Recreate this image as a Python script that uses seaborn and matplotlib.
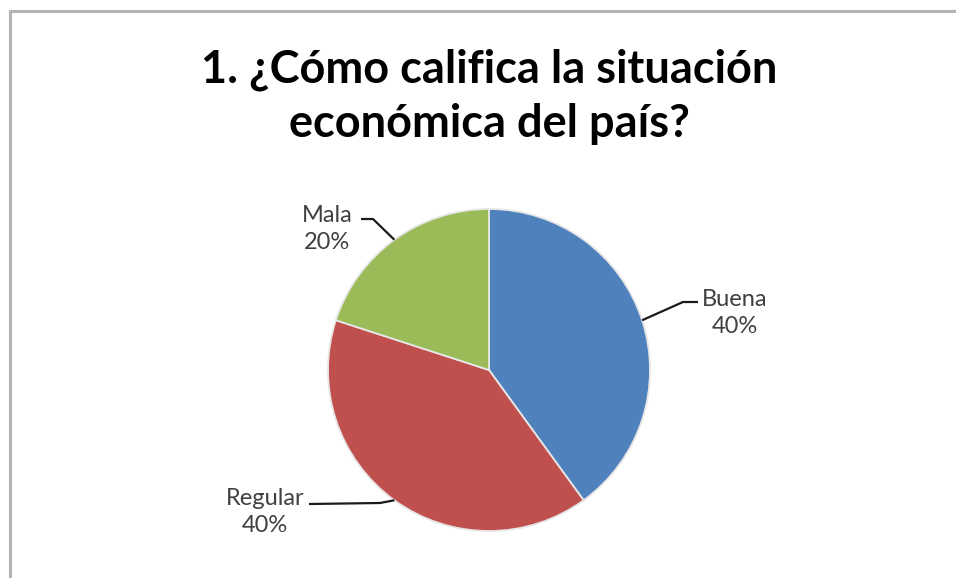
import numpy as np
import matplotlib
matplotlib.use("Agg")
import matplotlib.pyplot as plt
import seaborn as sns

# Survey answers and their shares (%)
categories = ["Buena", "Regular", "Mala"]
shares = [40, 40, 20]
colors = ["#4F81BD", "#C0504D", "#9BBB59"]
title = "1. ¿Cómo califica la situación\neconómica del país?"

sns.set_theme(style="white")
plt.rcParams["font.family"] = ["Lato", "DejaVu Sans"]

W, H = 956, 578
fig = plt.figure(figsize=(W / 100, H / 100), dpi=100)
ax = fig.add_axes([0, 0, 1, 1])

# chart frame (clipped on the right and bottom)
ax.plot([10, 10, W + 5], [-5, H - 11, H - 11], color="#b4b4b4", lw=2.2,
        solid_joinstyle="miter", clip_on=False)

cx, cy, r = 489, H - 370, 161
wedges, _ = ax.pie(shares, colors=colors, startangle=90, counterclock=False,
                   center=(cx, cy), radius=r, frame=True,
                   wedgeprops=dict(edgecolor="#e6e6e6", linewidth=1.3))
ax.set_xlim(0, W)
ax.set_ylim(0, H)
ax.set_aspect("equal")
ax.axis("off")

# label placement: text anchor, elbow point, line end (pixel offsets)
label_layout = {
    "Buena": dict(text=(735, 313), elbow=(683, 302), end=(698, 302)),
    "Regular": dict(text=(265, 512), elbow=(380, 503), end=(309, 504)),
    "Mala": dict(text=(327, 229), elbow=(373, 219), end=(361, 219)),
}

for w, cat, val in zip(wedges, categories, shares):
    mid = np.deg2rad((w.theta1 + w.theta2) / 2)
    px, py = cx + r * np.cos(mid), cy + r * np.sin(mid)
    lay = label_layout[cat]
    ex, ey = lay["elbow"]
    fx, fy = lay["end"]
    ax.plot([px, ex, fx], [py, H - ey, H - fy], color="#1a1a1a", lw=1.6,
            solid_capstyle="butt")
    tx, ty = lay["text"]
    ax.text(tx, H - ty, f"{cat}\n{val}%", ha="center", va="center",
            fontsize=17, color="#404040", linespacing=1.3)

fig.text(489 / W, 1 - 97 / H, title, ha="center", va="center",
         fontsize=32.5, fontweight="bold", color="#000000", linespacing=1.35)

fig.savefig("out.png", dpi=100, facecolor="white")
